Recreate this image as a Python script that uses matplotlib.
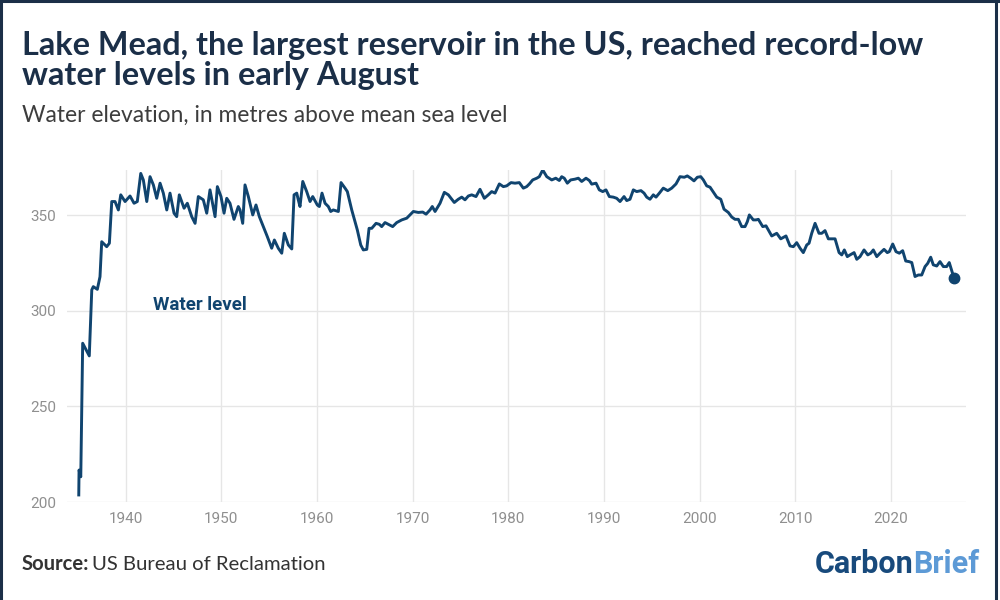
import matplotlib
matplotlib.use("Agg")
import matplotlib.pyplot as plt
from matplotlib.lines import Line2D

# Lake Mead elevation (m above mean sea level)
years = [
    1935.09, 1935.12, 1935.30, 1935.50, 1936.19, 1936.45, 1936.61, 1937.03, 1937.31, 1937.49,
    1938.01, 1938.29, 1938.54, 1938.88, 1939.23, 1939.48, 1939.93, 1940.45, 1940.87, 1941.21,
    1941.57, 1941.84, 1942.20, 1942.54, 1942.89, 1943.24, 1943.59, 1943.93, 1944.29, 1944.63,
    1945.05, 1945.33, 1945.60, 1946.10, 1946.44, 1946.90, 1947.25, 1947.59, 1948.11, 1948.47,
    1948.81, 1949.34, 1949.58, 1949.96, 1950.28, 1950.56, 1950.90, 1951.32, 1951.77, 1951.95,
    1952.23, 1952.47, 1952.82, 1953.28, 1953.62, 1953.97, 1954.39, 1954.80, 1955.26, 1955.54,
    1955.95, 1956.31, 1956.58, 1957.00, 1957.36, 1957.60, 1957.88, 1958.04, 1958.22, 1958.51,
    1958.92, 1959.27, 1959.55, 1960.03, 1960.24, 1960.52, 1960.84, 1961.18, 1961.43, 1961.70,
    1962.23, 1962.51, 1962.93, 1963.17, 1963.63, 1964.21, 1964.57, 1964.84, 1965.20, 1965.44,
    1965.72, 1966.17, 1966.51, 1966.76, 1967.11, 1967.56, 1967.91, 1968.33, 1968.86, 1969.38,
    1969.72, 1970.07, 1970.59, 1971.05, 1971.40, 1971.81, 1972.05, 1972.34, 1972.86, 1973.31,
    1973.73, 1974.35, 1974.77, 1975.13, 1975.47, 1975.82, 1976.17, 1976.62, 1977.04, 1977.49,
    1977.91, 1978.26, 1978.61, 1979.06, 1979.48, 1979.83, 1980.28, 1980.70, 1981.15, 1981.57,
    1981.92, 1982.20, 1982.55, 1982.97, 1983.24, 1983.60, 1984.02, 1984.54, 1984.96, 1985.33,
    1985.58, 1985.85, 1986.17, 1986.52, 1986.97, 1987.32, 1987.67, 1988.12, 1988.47, 1988.72,
    1989.17, 1989.51, 1989.87, 1990.21, 1990.56, 1990.98, 1991.33, 1991.68, 1992.10, 1992.38,
    1992.72, 1993.07, 1993.42, 1993.87, 1994.19, 1994.47, 1994.81, 1995.16, 1995.44, 1995.79,
    1996.20, 1996.67, 1997.08, 1997.53, 1997.95, 1998.40, 1998.71, 1999.07, 1999.41, 1999.76,
    2000.12, 2000.39, 2000.74, 2001.09, 2001.51, 2001.79, 2002.21, 2002.55, 2003.00, 2003.36,
    2003.70, 2004.05, 2004.40, 2004.75, 2004.99, 2005.20, 2005.61, 2005.90, 2006.14, 2006.60,
    2006.94, 2007.18, 2007.54, 2008.06, 2008.48, 2009.03, 2009.45, 2009.80, 2010.15, 2010.50,
    2010.84, 2011.20, 2011.44, 2011.72, 2012.07, 2012.48, 2012.77, 2013.11, 2013.46, 2013.81,
    2014.16, 2014.58, 2014.86, 2015.13, 2015.44, 2015.73, 2016.15, 2016.43, 2016.77, 2017.19,
    2017.58, 2017.89, 2018.16, 2018.52, 2018.86, 2019.28, 2019.62, 2019.83, 2020.19, 2020.53,
    2020.88, 2021.23, 2021.55, 2021.89, 2022.18, 2022.52, 2022.87, 2023.22, 2023.57, 2023.85,
    2024.16, 2024.43, 2024.79, 2025.13, 2025.48, 2025.83, 2026.10, 2026.60,
]
elevation = [
    203.7, 216.7, 213.2, 283.0, 276.4, 310.9, 312.6, 311.2, 317.8, 336.1,
    333.5, 335.3, 357.1, 357.1, 352.7, 360.6, 357.1, 360.0, 356.2, 357.1,
    371.8, 368.4, 357.1, 370.1, 365.8, 358.8, 366.7, 361.5, 352.7, 361.5,
    351.0, 349.2, 360.6, 353.6, 356.2, 349.2, 345.7, 359.7, 358.0, 351.0,
    363.2, 349.2, 364.9, 359.7, 351.0, 358.8, 356.2, 347.8, 354.5, 352.7,
    345.7, 365.8, 359.7, 350.1, 355.3, 349.2, 344.0, 338.8, 332.7, 337.0,
    332.7, 330.1, 340.5, 334.4, 332.3, 360.6, 361.5, 358.0, 354.5, 367.6,
    362.3, 357.1, 359.7, 355.3, 354.5, 361.5, 356.2, 354.5, 351.9, 352.7,
    351.9, 367.0, 364.1, 362.3, 352.7, 342.3, 334.4, 331.8, 332.1, 343.1,
    343.1, 345.7, 345.2, 344.0, 346.1, 344.9, 344.0, 346.1, 347.5, 348.4,
    350.1, 351.9, 351.4, 351.6, 350.5, 352.7, 354.5, 351.9, 356.2, 361.9,
    360.6, 356.6, 358.3, 359.4, 358.0, 360.0, 360.6, 359.7, 363.5, 358.8,
    360.6, 362.3, 361.5, 366.3, 364.9, 365.3, 367.0, 366.7, 367.0, 364.1,
    364.9, 366.3, 368.4, 369.3, 370.1, 373.6, 370.1, 368.4, 369.3, 368.1,
    370.1, 369.3, 366.7, 368.4, 368.8, 369.3, 367.6, 369.3, 368.1, 366.2,
    366.7, 363.2, 362.3, 363.2, 359.7, 359.4, 358.8, 357.1, 359.7, 357.6,
    358.3, 363.2, 362.3, 362.8, 361.5, 359.4, 358.3, 360.6, 359.4, 361.5,
    364.1, 362.8, 364.1, 366.3, 370.1, 369.8, 370.5, 369.3, 367.9, 369.8,
    370.1, 368.4, 365.3, 364.6, 361.5, 359.4, 358.3, 353.1, 351.4, 349.0,
    347.8, 347.8, 344.0, 344.0, 346.6, 350.1, 347.5, 347.5, 347.8, 344.0,
    344.4, 342.3, 339.1, 340.5, 337.6, 339.1, 333.9, 333.5, 335.6, 332.7,
    330.4, 334.4, 335.3, 340.5, 345.7, 340.5, 340.5, 341.9, 337.6, 337.6,
    337.6, 330.4, 329.2, 331.8, 328.3, 329.2, 330.4, 326.9, 328.3, 331.8,
    329.2, 330.1, 331.8, 328.3, 330.1, 332.1, 330.4, 330.9, 334.9, 330.9,
    330.1, 331.4, 326.0, 325.7, 325.2, 317.9, 318.7, 318.7, 323.1, 324.8,
    328.0, 324.0, 323.4, 325.7, 323.1, 323.1, 325.2, 317.0,
]
x_ticks = [1940, 1950, 1960, 1970, 1980, 1990, 2000, 2010, 2020]
y_ticks = [200, 250, 300, 350]

title = "Lake Mead, the largest reservoir in the US, reached record-low\nwater levels in early August"
subtitle = "Water elevation, in metres above mean sea level"
series_label = "Water level"

LINE = "#10446f"
NAVY = "#1b2f48"
GRID = "#e6e6e6"
TICK = "#8f8f8f"
HEAD = ["Lato", "DejaVu Sans"]

plt.rcParams["font.family"] = ["Roboto", "DejaVu Sans"]

fig = plt.figure(figsize=(10, 6), dpi=100)
ax = fig.add_axes([0.067, 0.1633, 0.899, 0.5534])

ax.plot(years, elevation, color=LINE, lw=2.1, solid_joinstyle="round", zorder=3)
ax.plot(years[-1], elevation[-1], "o", color=LINE, ms=7.5, zorder=4)

ax.set_xlim(1933.86, 2027.85)
ax.set_ylim(200, 373.6)
ax.set_xticks(x_ticks)
ax.set_yticks(y_ticks)
ax.grid(True, color=GRID, lw=1)
ax.set_axisbelow(True)
for s in ax.spines.values():
    s.set_visible(False)
ax.tick_params(length=0, labelsize=11, labelcolor=TICK)
ax.tick_params(axis="y", pad=8)
ax.tick_params(axis="x", pad=7)

ax.text(1942.86, 303, series_label, color=LINE, fontsize=13.5, fontweight="bold",
        va="center", ha="left")

# header / footer
fig.text(0.022, 0.949, title, fontsize=23.3, fontweight="bold", color=NAVY,
         family=HEAD, va="top", ha="left", linespacing=1.05)
fig.text(0.022, 0.808, subtitle, fontsize=16.4, color="#3d3d3d",
         family=HEAD, va="center", ha="left")
fig.text(0.022, 0.06, "Source:", fontsize=14.6, fontweight="bold", color="#333333",
         family=HEAD, va="center", ha="left")
fig.text(0.092, 0.06, "US Bureau of Reclamation", fontsize=14.6, color="#333333",
         family=HEAD, va="center", ha="left")
fig.text(0.913, 0.06, "Carbon", fontsize=22, fontweight="bold", color="#184a7c",
         va="center", ha="right")
fig.text(0.913, 0.06, "Brief", fontsize=22, fontweight="bold", color="#5d9ad6",
         va="center", ha="left")

# frame on left, top and right
for xs, ys in [([0.001, 0.001], [0, 1]), ([0, 1], [0.998, 0.998]), ([0.996, 0.996], [0, 1])]:
    fig.add_artist(Line2D(xs, ys, color=NAVY, lw=2.2, transform=fig.transFigure))

fig.savefig("out.png", dpi=100, facecolor="white")
